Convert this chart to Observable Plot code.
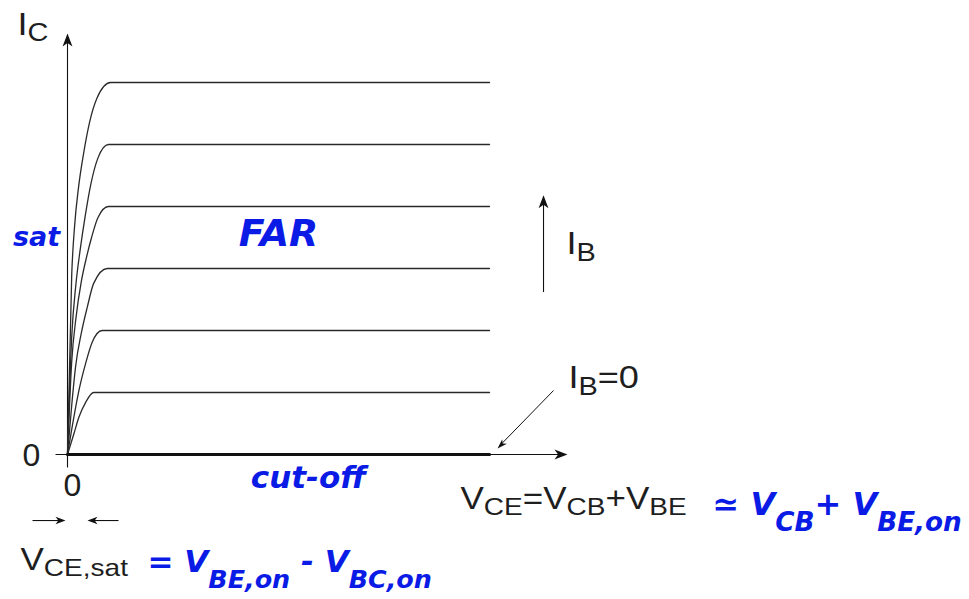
<!DOCTYPE html>
<html><head><meta charset="utf-8">
<script src="https://cdn.jsdelivr.net/npm/d3@7"></script>
<script src="https://cdn.jsdelivr.net/npm/@observablehq/plot@0.6"></script>
<style>html,body{margin:0;padding:0;background:#fff;} #chart svg{display:block;}</style>
</head><body><div id="chart"></div>
<script>
// Collector characteristics [VCE, IC] (arbitrary units) for increasing IB
const curveIB1 = [[0,0],[0.15,0.33],[0.27,0.6],[0.43,0.84],[0.62,1],[10,1]];
const curveIB2 = [[0,0],[0.15,0.6],[0.27,1.03],[0.43,1.47],[0.585,1.81],[0.82,2],[10,2]];
const curveIB3 = [[0,0],[0.11,0.87],[0.19,1.41],[0.325,1.95],[0.47,2.38],[0.62,2.76],[0.94,3],[10,3]];
const curveIB4 = [[0,0],[0.1,1.5],[0.2,2.2],[0.33,2.8],[0.45,3.18],[0.57,3.5],[0.72,3.82],[0.97,4],[10,4]];
const curveIB5 = [[0,0],[0.1,1.9],[0.2,2.75],[0.3,3.3],[0.42,3.85],[0.55,4.35],[0.72,4.78],[0.97,5],[10,5]];
const curveIB6 = [[0,0],[0.1,2.9],[0.17,3.7],[0.26,4.3],[0.38,4.85],[0.52,5.35],[0.7,5.75],[1.02,6],[10,6]];
const curveIB0 = [[0,0],[10,0]];
const curveNames = ["IB1","IB2","IB3","IB4","IB5","IB6"];

// Axis extents (data units)
const xAxisSpan = [-0.284, 11.848];
const yAxisSpan = [-0.21, 6.79];

// Texts
const tickLabels = ["0"];
const yAxisLabel = "I_{C}";
const xAxisLabel = "V_{CE}=V_{CB}+V_{BE}";
const ibLabel = "I_{B}";
const ib0Label = "I_{B}=0";
const satLabel = "V_{CE,sat}";
const handNotes = ["sat", "FAR", "cut-off", "≃ V_{CB}+ V_{BE,on}", "= V_{BE,on} - V_{BC,on}"];

const ink = "#1e1e1e";
const blue = "#0a1be6";
const printed = {fontFamily: "Liberation Sans, Arial, sans-serif", fill: ink};
const hand = {fontFamily: "DejaVu Sans", fontWeight: "bold", fontStyle: "italic", fill: blue};

function dart(angle, hw = 0.38, notch = 0.72) {
  const a = angle * Math.PI / 180, c = Math.cos(a), s = Math.sin(a);
  const pts = [[0,0],[-hw,1],[0,notch],[hw,1]];
  return {draw(ctx, size) {
    const L = Math.sqrt(size / Math.PI);
    pts.forEach(([x, y], i) => {
      const X = (x * c - y * s) * L, Y = (x * s + y * c) * L;
      i ? ctx.lineTo(X, Y) : ctx.moveTo(X, Y);
    });
    ctx.closePath();
  }};
}

const curves = [curveIB1, curveIB2, curveIB3, curveIB4, curveIB5, curveIB6]
  .flatMap((c, k) => c.map(([v, i]) => ({vce: v, ic: i, s: curveNames[k]})));
const cutoff = curveIB0.map(([v, i]) => ({vce: v, ic: i}));

const one = [0];
const chart = Plot.plot({
  width: 969, height: 599, margin: 0,
  x: {domain: [0, 10], range: [67, 489], axis: null},
  y: {domain: [0, 6], range: [454, 82], axis: null},
  style: {background: "#fff", overflow: "visible"},
  marks: [
    // axes
    Plot.link(one, {x1: xAxisSpan[0], x2: xAxisSpan[1] - 0.1, y1: 0, y2: 0, stroke: "#111", strokeWidth: 1.1}),
    Plot.link(one, {x1: 0, x2: 0, y1: yAxisSpan[0], y2: yAxisSpan[1] - 0.1, stroke: "#111", strokeWidth: 1.1}),
    Plot.dot(one, {x: xAxisSpan[1], y: 0, r: 13, symbol: dart(90), fill: "#111", stroke: "none"}),
    Plot.dot(one, {x: 0, y: yAxisSpan[1], r: 13, symbol: dart(0), fill: "#111", stroke: "none"}),
    // curves
    Plot.line(curves, {x: "vce", y: "ic", z: "s", curve: "monotone-x", stroke: "#2a2a2a", strokeWidth: 1.3}),
    Plot.line(cutoff, {x: "vce", y: "ic", stroke: "#111", strokeWidth: 3.2}),
    // IB arrow
    Plot.link(one, {x1: 11.28, x2: 11.28, y1: 2.62, y2: 4.1, stroke: "#111", strokeWidth: 1.1}),
    Plot.dot(one, {x: 11.28, y: 4.18, r: 13, symbol: dart(0), fill: "#111", stroke: "none"}),
    // IB=0 pointer
    Plot.link(one, {x1: 11.517, y1: 1.032, x2: 10.24, y2: 0.14, stroke: "#111", strokeWidth: 1}),
    Plot.dot(one, {x: 10.19, y: 0.095, r: 10, symbol: dart(225, 0.33), fill: "#111", stroke: "none"}),
    // VCE,sat arrows
    Plot.link(one, {x1: -0.829, x2: -0.1, y1: -1.065, y2: -1.065, stroke: "#111", strokeWidth: 1.1}),
    Plot.dot(one, {x: -0.047, y: -1.065, r: 10, symbol: dart(90), fill: "#111", stroke: "none"}),
    Plot.link(one, {x1: 1.209, x2: 0.53, y1: -1.065, y2: -1.065, stroke: "#111", strokeWidth: 1.1}),
    Plot.dot(one, {x: 0.474, y: -1.065, r: 10, symbol: dart(270), fill: "#111", stroke: "none"}),
    // printed texts
    Plot.text(tickLabels, {x: -0.853, y: -0.016, text: d => d, fontSize: 32, textAnchor: "middle", ...printed}),
    Plot.text(tickLabels, {x: 0.118, y: -0.5, text: d => d, fontSize: 32, textAnchor: "middle", ...printed}),
    Plot.text([yAxisLabel], {x: -1.185, y: 6.774, text: d => d, fontSize: 32, textAnchor: "start", ...printed}),
    Plot.text([ibLabel], {x: 11.825, y: 3.226, text: d => d, fontSize: 32, textAnchor: "start", ...printed}),
    Plot.text([ib0Label], {x: 11.87, y: 1.065, text: d => d, fontSize: 32, textAnchor: "start", ...printed}),
    Plot.text([xAxisLabel], {x: 9.313, y: -0.871, text: d => d, fontSize: 31, textAnchor: "start", ...printed}),
    Plot.text([satLabel], {x: -1.114, y: -1.855, text: d => d, fontSize: 31, textAnchor: "start", ...printed}),
    // handwritten notes
    Plot.text([handNotes[0]], {x: -0.735, y: 3.5, text: d => d, fontSize: 27, textAnchor: "middle", ...hand}),
    Plot.text([handNotes[1]], {x: 5.0, y: 3.565, text: d => d, fontSize: 38, textAnchor: "middle", ...hand}),
    Plot.text([handNotes[2]], {x: 5.71, y: -0.387, text: d => d, fontSize: 31, textAnchor: "middle", ...hand}),
    Plot.text([handNotes[3]], {x: 15.284, y: -0.968, text: d => d, fontSize: 32, textAnchor: "start", ...hand}),
    Plot.text([handNotes[4]], {x: 1.896, y: -1.9, text: d => d, fontSize: 31, textAnchor: "start", ...hand})
  ]
});
document.getElementById("chart").append(chart);

// Rich text: turn "_{...}" into subscripts
d3.select(chart).selectAll("text").each(function() {
  const t = this.textContent;
  if (!t.includes("_{")) return;
  const cs = getComputedStyle(this);
  const fs = parseFloat(cs.fontSize);
  const isHand = cs.fontStyle === "italic";
  const ratio = isHand ? 0.82 : 0.8;
  const shift = (isHand ? 0.5 : 0.2) * fs;
  const sx = isHand ? 1 : 1.13;
  const parts = t.split(/(_\{[^}]*\})/).filter(p => p.length);
  this.textContent = "";
  this.removeAttribute("y");
  this.removeAttribute("dy");
  let down = 0;
  for (const p of parts) {
    const sub = p.startsWith("_{");
    const ts = document.createElementNS("http://www.w3.org/2000/svg", "tspan");
    ts.textContent = sub ? p.slice(2, -1) : p;
    const target = sub ? shift : 0;
    if (target !== down) ts.setAttribute("dy", target - down);
    down = target;
    if (sub) ts.setAttribute("font-size", ratio * fs);
    this.appendChild(ts);
  }
  const tr = this.getAttribute("transform") || "";
  this.setAttribute("transform", `${tr} scale(${sx},1)`);
});
</script></body></html>
